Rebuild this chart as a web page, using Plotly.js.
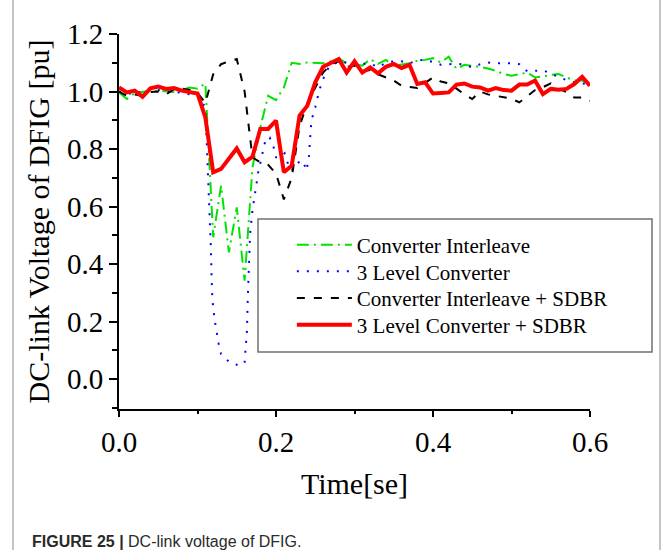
<!DOCTYPE html>
<html><head><meta charset="utf-8">
<script src="https://cdn.plot.ly/plotly-3.0.1.min.js"></script>
<style>html,body{margin:0;padding:0;background:#fff}#chart{width:665px;height:550px}</style>
</head><body><div id="chart"></div>
<script>
// Time axis (s) shared by three series
const timeMain = [0,0.01,0.02,0.03,0.04,0.05,0.06,0.07,0.08,0.09,0.10,0.11,0.12,0.13,0.14,0.15,0.16,0.17,0.18,0.19,0.20,0.21,0.22,0.23,0.24,0.25,0.26,0.27,0.28,0.29,0.30,0.31,0.32,0.33,0.34,0.35,0.36,0.37,0.38,0.39,0.40,0.41,0.42,0.43,0.44,0.45,0.46,0.47,0.48,0.49,0.50,0.51,0.52,0.53,0.54,0.55,0.56,0.57,0.58,0.59,0.60];

// Converter Interleave
const convInterleave = [0.997,0.974,0.995,1.000,1.003,1.003,1.000,0.998,1.005,1.014,1.010,1.028,0.493,0.673,0.441,0.597,0.342,0.736,0.875,0.985,0.970,1.014,1.100,1.096,1.101,1.100,1.098,1.105,1.116,1.096,1.095,1.090,1.113,1.096,1.110,1.090,1.095,1.098,1.107,1.110,1.116,1.101,1.121,1.078,1.093,1.090,1.086,1.080,1.072,1.061,1.055,1.060,1.066,1.049,1.052,1.058,1.061,1.049,1.038,1.038,1.026];

// Converter Interleave + SDBR
const convInterleaveSDBR = [1.000,0.985,0.990,0.985,0.998,1.000,0.990,1.008,1.010,1.005,0.995,0.960,1.060,1.095,1.105,1.113,1.000,0.771,0.754,0.745,0.715,0.625,0.700,0.880,0.960,1.014,1.066,1.095,1.105,1.085,1.090,1.070,1.075,1.060,1.050,1.038,1.020,1.015,1.012,1.030,1.049,1.035,1.028,1.010,0.990,0.974,1.000,0.990,0.985,0.982,0.975,0.962,0.985,1.005,1.015,1.028,1.010,0.998,0.979,0.979,0.968];

// 3 Level Converter + SDBR
const level3SDBR = [1.014,0.997,1.003,0.982,1.011,1.017,1.009,1.012,1.003,0.999,0.993,0.910,0.719,0.731,0.765,0.802,0.754,0.773,0.870,0.870,0.899,0.719,0.742,0.916,0.951,1.032,1.086,1.098,1.113,1.066,1.105,1.066,1.084,1.063,1.086,1.096,1.082,1.093,1.026,1.032,0.993,0.995,0.997,1.024,1.028,1.017,1.014,1.003,1.012,1.005,1.003,1.024,1.024,1.038,0.991,1.009,1.006,1.009,1.026,1.051,1.020];

// 3 Level Converter (own time base, denser in the dip)
const timeLevel3 = [0,0.01,0.02,0.03,0.04,0.05,0.06,0.07,0.08,0.09,0.10,0.11,0.112,0.114,0.116,0.117,0.118,0.119,0.122,0.124,0.127,0.130,0.141,0.150,0.156,0.160,0.161,0.163,0.164,0.166,0.167,0.170,0.174,0.178,0.182,0.184,0.188,0.192,0.197,0.200,0.205,0.211,0.216,0.220,0.226,0.234,0.239,0.242,0.245,0.250,0.255,0.260,0.267,0.28,0.29,0.30,0.31,0.32,0.33,0.34,0.35,0.36,0.37,0.38,0.39,0.40,0.41,0.42,0.43,0.44,0.45,0.46,0.47,0.48,0.49,0.50,0.51,0.52,0.53,0.54,0.55,0.56,0.57,0.58,0.59,0.60];
const level3 = [1.000,0.995,0.990,1.003,1.005,1.005,1.000,1.000,0.995,0.991,0.985,0.945,0.806,0.690,0.574,0.458,0.348,0.275,0.203,0.163,0.122,0.087,0.058,0.050,0.047,0.058,0.093,0.169,0.279,0.400,0.505,0.586,0.655,0.731,0.771,0.806,0.840,0.840,0.806,0.771,0.771,0.785,0.742,0.725,0.750,0.760,0.725,0.777,0.898,0.945,1.003,1.043,1.084,1.105,1.101,1.090,1.096,1.098,1.084,1.100,1.105,1.105,1.098,1.108,1.111,1.101,1.093,1.095,1.097,1.093,1.084,1.095,1.101,1.098,1.098,1.098,1.095,1.070,1.072,1.074,1.063,1.050,1.040,1.032,1.028,1.024];

const seriesNames = ['Converter Interleave','3 Level Converter','Converter Interleave + SDBR','3 Level Converter + SDBR'];

const traces = [
  {x: timeMain, y: convInterleave, name: seriesNames[0], type:'scatter', mode:'lines', legend:'legend',
   line:{color:'#00e400', width:2, dash:'12px,5px,2px,5px'}},
  {x: timeLevel3, y: level3, name: seriesNames[1], type:'scatter', mode:'lines', legend:'legend2',
   line:{color:'#0000ff', width:2, dash:'2px,8px'}},
  {x: timeMain, y: convInterleaveSDBR, name: seriesNames[2], type:'scatter', mode:'lines', legend:'legend3',
   line:{color:'#000000', width:2, dash:'8px,9px'}},
  {x: timeMain, y: level3SDBR, name: seriesNames[3], type:'scatter', mode:'lines', legend:'legend4',
   line:{color:'#ff0000', width:4}}
];

const serif = 'Liberation Serif, Times New Roman, serif';
function legendAt(yc){
  return {x:0.367, y:yc, xanchor:'left', yanchor:'middle', bgcolor:'rgba(0,0,0,0)', borderwidth:0,
    font:{family: serif, size:21, color:'#000'}, itemwidth:55};
}
const layout = {
  width:665, height:550,
  margin:{l:119, r:75, t:34, b:141},
  paper_bgcolor:'#ffffff', plot_bgcolor:'#ffffff',
  font:{family: serif, color:'#000'},
  xaxis:{range:[0,0.6], tick0:0, dtick:0.2, tickformat:'.1f', ticks:'outside', ticklen:6, tickwidth:2, tickcolor:'#000',
    showline:true, linewidth:2, linecolor:'#000', showgrid:false, zeroline:false, mirror:false,
    tickfont:{family: serif, size:29, color:'#000'},
    minor:{tick0:0, dtick:0.1, ticks:'outside', ticklen:3, tickwidth:2, tickcolor:'#000', showgrid:false},
    title:{text:'Time[se]', font:{family: serif, size:30, color:'#000'}, standoff:16}},
  yaxis:{range:[-0.104,1.2], tick0:0, dtick:0.2, tickformat:'.1f', ticks:'outside', ticklen:8, tickwidth:2, tickcolor:'#000',
    showline:true, linewidth:2, linecolor:'#000', showgrid:false, zeroline:false, mirror:false,
    tickfont:{family: serif, size:29, color:'#000'},
    minor:{tick0:0, dtick:0.1, ticks:'outside', ticklen:5, tickwidth:2, tickcolor:'#000', showgrid:false},
    title:{text:'DC-link Voltage of DFIG [pu]', font:{family: serif, size:30, color:'#000'}, standoff:8}},
  showlegend:true,
  legend: legendAt(0.4373),
  legend2: legendAt(0.3661),
  legend3: legendAt(0.2952),
  legend4: legendAt(0.2240),
  shapes:[
    {type:'rect', xref:'paper', yref:'paper', x0:0.2951, x1:1.1316, y0:0.152, y1:0.5067,
     line:{color:'#707070', width:1.5}, fillcolor:'rgba(0,0,0,0)'},
    {type:'line', xref:'paper', yref:'paper', x0:-0.2251, x1:-0.2251, y0:-0.376, y1:1.0907,
     line:{color:'#c4c4c4', width:2}},
    {type:'line', xref:'paper', yref:'paper', x0:1.1486, x1:1.1486, y0:-0.376, y1:1.0907,
     line:{color:'#c4c4c4', width:2}}
  ],
  annotations:[
    {xref:'paper', yref:'paper', x:-0.189, y:-0.352, xanchor:'left', yanchor:'middle', showarrow:false,
     text:'<b>FIGURE 25 |</b> DC-link voltage of DFIG.',
     font:{family:'Liberation Sans, Arial, sans-serif', size:16, color:'#2a2a2a'}}
  ]
};

Plotly.newPlot('chart', traces, layout, {displayModeBar:false, staticPlot:true});
</script>
</body></html>
